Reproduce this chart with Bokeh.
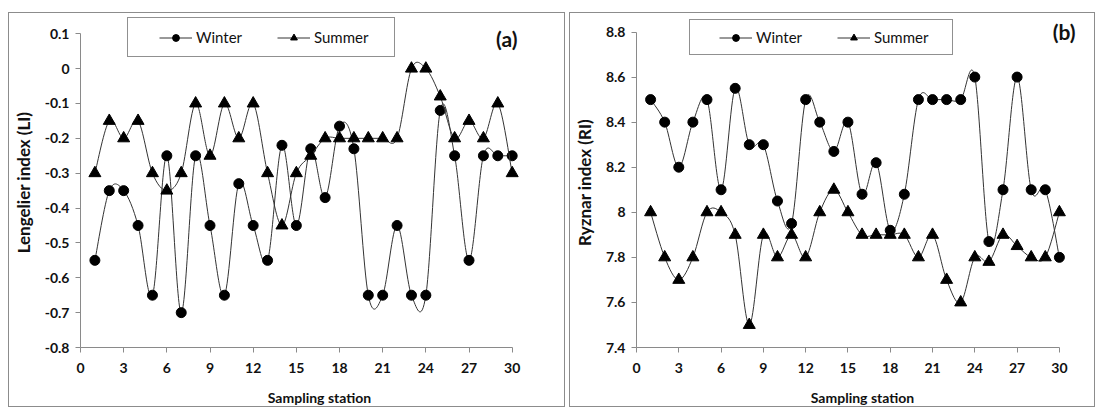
from bokeh.plotting import figure
from bokeh.models import Legend, LegendItem, Label, FixedTicker, Range1d
from bokeh.layouts import row
from bokeh.embed import file_html
from bokeh.resources import INLINE

# ---------------- data ----------------
stations = [1, 2, 3, 4, 5, 6, 7, 8, 9, 10, 11, 12, 13, 14, 15,
            16, 17, 18, 19, 20, 21, 22, 23, 24, 25, 26, 27, 28, 29, 30]

li_winter = [-0.55, -0.35, -0.35, -0.45, -0.65, -0.25, -0.70, -0.25, -0.45, -0.65,
             -0.33, -0.45, -0.55, -0.22, -0.45, -0.23, -0.37, -0.165, -0.23, -0.65,
             -0.65, -0.45, -0.65, -0.65, -0.12, -0.25, -0.55, -0.25, -0.25, -0.25]
li_summer = [-0.30, -0.15, -0.20, -0.15, -0.30, -0.35, -0.30, -0.10, -0.25, -0.10,
             -0.20, -0.10, -0.30, -0.45, -0.30, -0.25, -0.20, -0.20, -0.20, -0.20,
             -0.20, -0.20, 0.00, 0.00, -0.08, -0.20, -0.15, -0.20, -0.10, -0.30]

ri_winter = [8.50, 8.40, 8.20, 8.40, 8.50, 8.10, 8.55, 8.30, 8.30, 8.05,
             7.95, 8.50, 8.40, 8.27, 8.40, 8.08, 8.22, 7.92, 8.08, 8.50,
             8.50, 8.50, 8.50, 8.60, 7.87, 8.10, 8.60, 8.10, 8.10, 7.80]
ri_summer = [8.00, 7.80, 7.70, 7.80, 8.00, 8.00, 7.90, 7.50, 7.90, 7.80,
             7.90, 7.80, 8.00, 8.10, 8.00, 7.90, 7.90, 7.90, 7.90, 7.80,
             7.90, 7.70, 7.60, 7.80, 7.78, 7.90, 7.85, 7.80, 7.80, 8.00]

x_ticks = [0, 3, 6, 9, 12, 15, 18, 21, 24, 27, 30]
li_ticks = [-0.8, -0.7, -0.6, -0.5, -0.4, -0.3, -0.2, -0.1, 0.0, 0.1]
li_tick_labels = ["-0.8", "-0.7", "-0.6", "-0.5", "-0.4", "-0.3", "-0.2", "-0.1", "0", "0.1"]
ri_ticks = [7.4, 7.6, 7.8, 8.0, 8.2, 8.4, 8.6, 8.8]
ri_tick_labels = ["7.4", "7.6", "7.8", "8", "8.2", "8.4", "8.6", "8.8"]

series_names = ["Winter", "Summer"]
panel_tags = ["(a)", "(b)"]
y_titles = ["Lengelier index (LI)", "Ryznar index (RI)"]
x_title = "Sampling station"

FONT = "Lato"
AXIS_GRAY = "#8a8a8a"
TEXT = "#111111"
H = 395


def smooth(xs, ys):
    """Bezier control points for an Excel-like smoothed line through the data."""
    n = len(xs)
    d = dict(x0=[], y0=[], x1=[], y1=[], cx0=[], cy0=[], cx1=[], cy1=[])
    for i in range(n - 1):
        xa, ya = (xs[i - 1], ys[i - 1]) if i > 0 else (xs[i], ys[i])
        xb, yb = xs[i], ys[i]
        xc, yc = xs[i + 1], ys[i + 1]
        xd, yd = (xs[i + 2], ys[i + 2]) if i + 2 < n else (xc, yc)
        d["x0"].append(xb); d["y0"].append(yb)
        d["x1"].append(xc); d["y1"].append(yc)
        d["cx0"].append(xb + (xc - xa) / 6.0); d["cy0"].append(yb + (yc - ya) / 6.0)
        d["cx1"].append(xc - (xd - xb) / 6.0); d["cy1"].append(yc - (yd - yb) / 6.0)
    return d


def make_panel(width, yticks, ylabels, winter, summer, tag, ytitle,
               fl, x30_px, y_top_px, y_bot_px, leg_loc, leg_pad, leg_h, tag_xy, margin):
    # layout in canvas pixels: frame left fl, x=30 at x30_px, top tick at y_top_px,
    # bottom tick at y_bot_px; the frame extends a little beyond so that the
    # legend and panel tag are not clipped, the axes are bounded to the data span.
    fr_right = width - 8
    fr_top = 4
    x_end = 30 + (fr_right - x30_px) * 30.0 / (x30_px - fl)
    y0, y1 = yticks[0], yticks[-1]
    ppu = (y_bot_px - y_top_px) / (y1 - y0)
    y_end = y1 + (y_top_px - fr_top) / ppu
    p = figure(width=width, height=H, output_backend="svg", toolbar_location=None,
               x_range=Range1d(0, x_end), y_range=Range1d(y0, y_end),
               min_border_left=fl, min_border_right=width - fr_right,
               min_border_top=fr_top, min_border_bottom=H - y_bot_px)
    p.outline_line_color = None
    p.grid.visible = False
    p.background_fill_color = "white"
    p.border_fill_color = "white"

    for ax in (p.xaxis[0], p.yaxis[0]):
        ax.axis_line_color = AXIS_GRAY
        ax.major_tick_line_color = AXIS_GRAY
        ax.minor_tick_line_color = None
        ax.major_tick_in = 0
        ax.major_tick_out = 5
        ax.major_label_text_font = FONT
        ax.major_label_text_font_style = "bold"
        ax.major_label_text_font_size = "14px"
        ax.major_label_text_color = TEXT
        ax.axis_label_text_font = FONT
        ax.axis_label_text_font_style = "bold"
        ax.axis_label_text_color = TEXT

    p.xaxis.bounds = (0, 30)
    p.yaxis.bounds = (y0, y1)
    p.xaxis.ticker = FixedTicker(ticks=x_ticks)
    p.yaxis.ticker = FixedTicker(ticks=yticks)
    p.yaxis.major_label_overrides = {t: l for t, l in zip(yticks, ylabels)}
    p.xaxis.major_label_standoff = 10
    p.yaxis.major_label_standoff = 6
    p.xaxis.axis_label = x_title
    p.yaxis.axis_label = ytitle
    p.xaxis.axis_label_text_font_size = "14px"
    p.yaxis.axis_label_text_font_size = "17px"
    p.xaxis.axis_label_standoff = 13
    p.yaxis.axis_label_standoff = 8

    items = []
    for name, vals, marker, size in ((series_names[0], winter, "circle", 10),
                                     (series_names[1], summer, "triangle", 12)):
        b = p.bezier(source=smooth(stations, vals), x0="x0", y0="y0", x1="x1", y1="y1",
                     cx0="cx0", cy0="cy0", cx1="cx1", cy1="cy1",
                     line_color="#333333", line_width=1)
        s = p.scatter(stations, vals, marker=marker, size=size,
                      fill_color="black", line_color="black")
        items.append(LegendItem(label=name, renderers=[b, s]))

    leg = Legend(items=items, orientation="horizontal", location=leg_loc)
    leg.padding = leg_pad
    leg.margin = 0
    leg.spacing = 11
    leg.glyph_width = 33
    leg.glyph_height = leg_h
    leg.label_height = leg_h
    leg.label_width = 70
    leg.label_standoff = 4
    leg.label_text_font = FONT
    leg.label_text_font_size = "15px"
    leg.label_text_color = TEXT
    leg.title = " "
    leg.title_location = "left"
    leg.title_standoff = 10
    leg.title_text_font_size = "10px"
    leg.border_line_color = "#222222"
    leg.border_line_width = 1
    leg.background_fill_color = "white"
    leg.background_fill_alpha = 1.0
    p.add_layout(leg, "center")

    p.add_layout(Label(x=tag_xy[0], y=tag_xy[1], x_units="screen", y_units="screen",
                       text=tag, text_align="right", text_baseline="middle",
                       text_font=FONT, text_font_style="bold", text_font_size="21px",
                       text_color=TEXT))
    p.styles = {"border": "1.5px solid #8c8c8c"}
    p.margin = margin
    return p


p1 = make_panel(557, li_ticks, li_tick_labels, li_winter, li_summer,
                panel_tags[0], y_titles[0], 69, 502.5, 20.5, 339,
                (47, 290), 10, 17, (437, 309), (12, 0, 0, 8))
p2 = make_panel(526, ri_ticks, ri_tick_labels, ri_winter, ri_summer,
                panel_tags[1], y_titles[1], 60, 488.5, 18.5, 334,
                (53, 292), 8, 17, (439, 316), (12, 0, 0, 0))

layout = row(p1, p2, spacing=4)
open("out.html", "w").write(file_html(layout, INLINE))
